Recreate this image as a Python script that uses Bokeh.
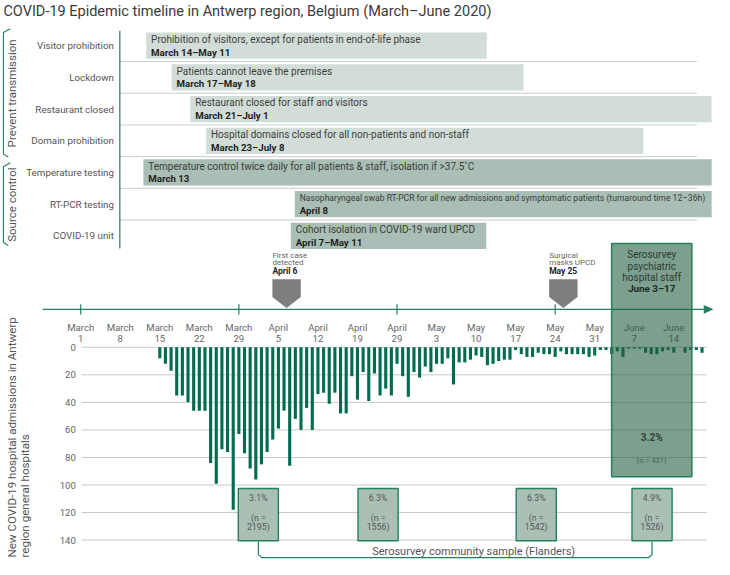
import pandas as pd
from math import pi
from bokeh.plotting import figure
from bokeh.models import Range1d
from bokeh.core.properties import value
from bokeh.embed import file_html
from bokeh.resources import INLINE

# ---------------- data ----------------
TITLE = "COVID-19 Epidemic timeline in Antwerp region, Belgium (March\u2013June 2020)"

GROUPS = ["Prevent transmission", "Source control"]
MEASURE_NAMES = ["Visitor prohibition", "Lockdown", "Restaurant closed", "Domain prohibition",
                 "Temperature testing", "RT-PCR testing", "COVID-19 unit"]
MEASURE_DESC = [
    "Prohibition of visitors, except for patients in end-of-life phase",
    "Patients cannot leave the premises",
    "Restaurant closed for staff and visitors",
    "Hospital domains closed for all non-patients and non-staff",
    "Temperature control twice daily for all patients & staff, isolation if >37.5\u02daC",
    "Nasopharyngeal swab RT-PCR for all new admissions and symptomatic patients (turnaround time 12\u201336h)",
    "Cohort isolation in COVID-19 ward UPCD",
]
MEASURE_DATES = ["March 14\u2013May 11", "March 17\u2013May 18", "March 21\u2013July 1", "March 23\u2013July 8",
                 "March 13", "April 8", "April 7\u2013May 11"]
MEASURE_GROUP = [0, 0, 0, 0, 1, 1, 1]
# bar extents as drawn, in days since March 1
MEASURE_START = [11.6, 16.1, 19.4, 22.2, 11.1, 37.9, 37.2]
MEASURE_END = [71.9, 78.4, 111.7, 99.6, 111.7, 111.7, 71.8]

TICK_DAYS = [0, 7, 14, 21, 28, 35, 42, 49, 56, 63, 70, 77, 84, 91, 98, 105]
TICK_LABELS = ["March\n1", "March\n8", "March\n15", "March\n22", "March\n29", "April\n5", "April\n12",
               "April\n19", "April\n29", "May\n3", "May\n10", "May\n17", "May\n24", "May\n31",
               "June\n7", "June\n14"]
TIMELINE_TICKS = [0, 28, 56, 84]
Y_TICKS = [0, 20, 40, 60, 80, 100, 120, 140]
Y_TITLE = ["New COVID-19 hospital admissions in Antwerp", "region general hospitals"]

ADM_START = "2020-03-15"
ADMISSIONS = [8, 12, 17, 35, 35, 40, 46, 46, 46, 84, 99, 74, 76, 118, 63, 77, 88, 96, 85, 76,
              67, 59, 46, 86, 52, 60, 44, 60, 34, 33, 41, 33, 48, 48, 21, 38, 18, 39, 19, 35,
              30, 35, 12, 21, 36, 18, 22, 14, 18, 12, 12, 8, 27, 11, 11, 9, 6, 7, 13, 12,
              10, 9, 9, 2, 5, 7, 7, 4, 5, 5, 7, 3, 5, 5, 5, 5, 7, 6, 2, 2,
              5, 3, 7, 1, 1, 1, 4, 5, 5, 3, 2, 4, 0, 4, 2, 2, 4]

EVENT_TEXT = ["First case\ndetected", "Surgical\nmasks UPCD"]
EVENT_DATE = ["April 6", "May 25"]
EVENT_DAY = [36, 85]

STAFF_TEXT = "Serosurvey\npsychiatric\nhospital staff"
STAFF_DATES = "June 3\u201317"
STAFF_START, STAFF_END = 94.0, 108.2
STAFF_PCT = "3.2%"
STAFF_N = 431

COMM_START = [27.9, 49.1, 77.1, 97.6]
COMM_END = [35.0, 56.2, 84.2, 104.7]
COMM_PCT = ["3.1%", "6.3%", "6.3%", "4.9%"]
COMM_N = [2195, 1556, 1542, 1526]
COMM_LABEL = "Serosurvey community sample (Flanders)"

# ---------------- layout helpers (reference pixels -> data) ----------------
PX_DAY = 5.775
PX_UNIT = 1.4167
X_ORIGIN = 82.0
Y_ORIGIN = 356.7


def X(px):
    return (px - X_ORIGIN) / PX_DAY


def Y(py):
    return (py - Y_ORIGIN) / PX_UNIT


def DX(px):
    return px / PX_DAY


FONT = "Roboto"
GREEN = "#22805f"
BAR = "#006b4f"

p = figure(width=714, height=559, x_range=Range1d(X(0), X(730)), y_range=Range1d(Y(575), Y(0)),
           x_axis_type=None, y_axis_type=None, output_backend="svg", toolbar_location=None,
           min_border=0, outline_line_color=None, background_fill_color="white",
           border_fill_color="white")


def T(xs, ys, texts, size, color="#444444", align="left", bold=False, italic=False, angle=0.0, font=FONT):
    style = "bold" if bold else ("italic" if italic else "normal")
    p.text(x=list(xs), y=list(ys), text=list(texts), text_font=value(font),
           text_font_size=f"{size}px", text_color=color, text_align=align,
           text_baseline="middle", text_font_style=style, angle=angle)


# title
T([X(3)], [Y(11.5)], [TITLE], 14.5, "#3a3a3a")

# group brackets
group_px = [(31, 160), (169, 251)]
for (top, bot), g in zip(group_px, GROUPS):
    p.line([X(10), X(3), X(3), X(8)], [Y(top - 2), Y(top + 2), Y(bot - 2), Y(bot + 1)],
           line_color=GREEN, line_width=1.1)
    T([X(11.5)], [Y((top + bot) / 2)], [g], 11.5, "#555555", align="center", angle=pi / 2)

# rows
row_c = [46.5 + 32.6 * i for i in range(len(MEASURE_NAMES))]
T([X(116)] * len(row_c), [Y(c) for c in row_c], MEASURE_NAMES, 9.8, "#555555", align="right")
seps = [(row_c[i] + row_c[i + 1]) / 2 for i in range(len(row_c) - 1)]
p.segment(x0=[X(122)] * len(seps), x1=[X(712)] * len(seps), y0=[Y(s) for s in seps],
          y1=[Y(s) for s in seps], line_color="#cccccc", line_width=1)
p.segment(x0=[X(122)], x1=[X(122)], y0=[Y(31)], y1=[Y(255)], line_color=GREEN, line_width=1.2)

fills = ["#d3ddd8", "#a9beb4"]
p.quad(left=MEASURE_START, right=MEASURE_END,
       top=[Y(c - 13.5) for c in row_c], bottom=[Y(c + 13.5) for c in row_c],
       fill_color=[fills[g] for g in MEASURE_GROUP], line_color=None)
for s, c, d, dt in zip(MEASURE_START, row_c, MEASURE_DESC, MEASURE_DATES):
    size = 10 if len(d) < 90 else 8.6
    T([s + DX(5)], [Y(c - 6.5)], [d], size, "#3d3d3d")
    T([s + DX(5)], [Y(c + 6.5)], [dt], 9.7, "#1e1e1e", bold=True)

# timeline
p.line([X(43), X(721)], [Y(317.7), Y(317.7)], line_color=GREEN, line_width=1.3)
p.patch([X(719), X(729), X(719)], [Y(313.3), Y(317.7), Y(322.1)], fill_color=GREEN, line_color=None)
p.segment(x0=TIMELINE_TICKS, x1=TIMELINE_TICKS, y0=[Y(312.5)] * 4, y1=[Y(323)] * 4,
          line_color=GREEN, line_width=1.2)

# events
hw = DX(14.5)
for d, txt, dt in zip(EVENT_DAY, EVENT_TEXT, EVENT_DATE):
    cx = d + 0.45
    p.patch([cx - hw, cx + hw, cx + hw, cx, cx - hw],
            [Y(286.7), Y(286.7), Y(305), Y(316.3), Y(305)], fill_color="#7e7e80", line_color=None)
    l1, l2 = txt.split("\n")
    T([cx - hw] * 2, [Y(262), Y(270)], [l1, l2], 8, "#666666")
    T([cx - hw], [Y(278.3)], [dt], 8.5, "#222222", bold=True)

# x tick labels
months = [t.split("\n")[0] for t in TICK_LABELS]
days = [t.split("\n")[1] for t in TICK_LABELS]
T(TICK_DAYS, [Y(336)] * len(TICK_DAYS), months, 9.6, "#666666", align="center")
T(TICK_DAYS, [Y(348)] * len(TICK_DAYS), days, 9.6, "#666666", align="center")

# grid + y ticks
p.segment(x0=[X(83)] * len(Y_TICKS), x1=[X(722)] * len(Y_TICKS), y0=Y_TICKS, y1=Y_TICKS,
          line_color="#c8c8c8", line_width=1)
T([X(77)] * len(Y_TICKS), Y_TICKS, [str(v) for v in Y_TICKS], 9.6, "#666666", align="right")
T([X(12), X(25)], [Y(573), Y(573)], Y_TITLE, 11.6, "#555555", angle=pi / 2)

# admissions bars
adm_days = [(d - pd.Timestamp("2020-03-01")).days for d in pd.date_range(ADM_START, periods=len(ADMISSIONS))]
p.vbar(x=adm_days, top=[0] * len(ADMISSIONS), bottom=ADMISSIONS, width=0.55, fill_color=BAR, line_color=None)

# community serosurvey boxes
p.quad(left=COMM_START, right=COMM_END, top=[Y(502)] * 4, bottom=[Y(555.7)] * 4,
       fill_color="#abc0b5", line_color=GREEN, line_width=1.4)
cc = [(a + b) / 2 for a, b in zip(COMM_START, COMM_END)]
T(cc, [Y(511.7)] * 4, COMM_PCT, 8.8, "#555555", align="center")
T(cc, [Y(532.7)] * 4, ["(n ="] * 4, 8.8, "#555555", align="center")
T(cc, [Y(541.5)] * 4, [f"{n})" for n in COMM_N], 8.8, "#555555", align="center")
c1, c4 = cc[0], cc[-1]
p.line([c1, c1, c1 + 0.6, c4 - 0.6, c4, c4],
       [Y(556.5), Y(570), Y(573), Y(573), Y(570), Y(556.5)], line_color=GREEN, line_width=1.2)
T([X(380)], [Y(566.5)], [COMM_LABEL], 11, "#555555")

# staff serosurvey box
p.quad(left=[STAFF_START], right=[STAFF_END], top=[Y(250)], bottom=[Y(490)],
       fill_color="#245f43", fill_alpha=0.6, line_color=GREEN, line_width=1.5)
sc = (STAFF_START + STAFF_END) / 2
T([sc] * 3, [Y(261.7), Y(273.3), Y(284.6)], STAFF_TEXT.split("\n"), 10, "#2f3b35", align="center")
T([sc], [Y(296.3)], [STAFF_DATES], 9.8, "#1e2a24", align="center", bold=True)
T([sc], [Y(450)], [STAFF_PCT], 10, "#33443c", align="center", bold=True)
T([sc], [Y(472.7)], [f"(n = {STAFF_N})"], 7.5, "#4d5f56", align="center")

open("out.html", "w").write(file_html(p, INLINE))
